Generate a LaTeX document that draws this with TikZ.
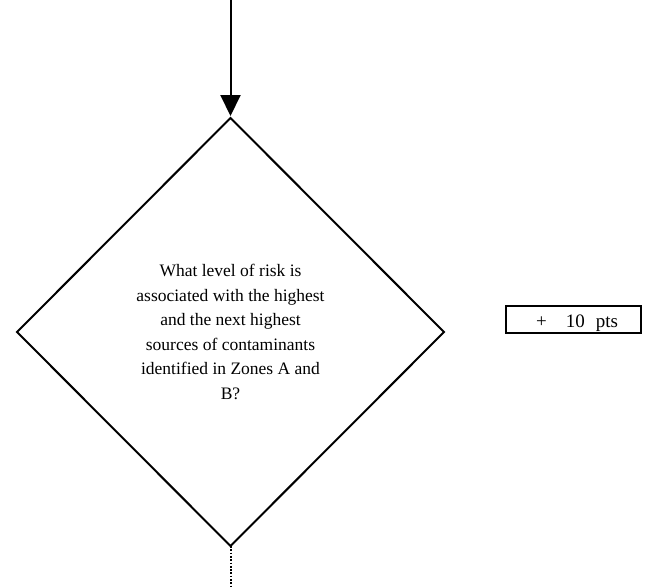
\documentclass[tikz,border=0pt]{standalone}
\usepackage{fontspec}
\setmainfont{Liberation Serif}
\usetikzlibrary{shapes.geometric,arrows.meta}
\begin{document}
\begin{tikzpicture}[x=1pt,y=-1pt,
  decision/.style={draw,diamond,aspect=1,line width=2pt,minimum width=427pt,minimum height=428pt,inner sep=0pt,outer sep=0pt,align=center,font=\fontsize{17.5}{24.5}\selectfont},
  ptsbox/.style={draw,rectangle,line width=2.8pt,minimum width=135pt,minimum height=27pt,inner sep=0pt,outer sep=0pt,text height=15pt,text depth=0pt,font=\fontsize{19}{21}\selectfont},
  flow/.style={line width=2pt,-{Triangle[length=21pt,width=20pt]}},
  dots/.style={line width=2pt,dash pattern=on 1.7pt off 1.6pt}]
\useasboundingbox (0,0) rectangle (648,587);
\node[decision] (q) at (230.5,332) {What level of risk is\\associated with the highest\\and the next highest\\sources of contaminants\\identified in Zones A and\\B?};
\node[ptsbox] (pts) at (573.5,319.5) {\hspace*{7pt}+\hspace{19pt}10\hspace{11pt}pts};
\coordinate (start) at (230.5,0);
\coordinate (end) at (230.5,587);
\draw[flow] (start) -- ([yshift=2pt]q.north);
\draw[dots] (q.south) -- (end);
\end{tikzpicture}
\end{document}
